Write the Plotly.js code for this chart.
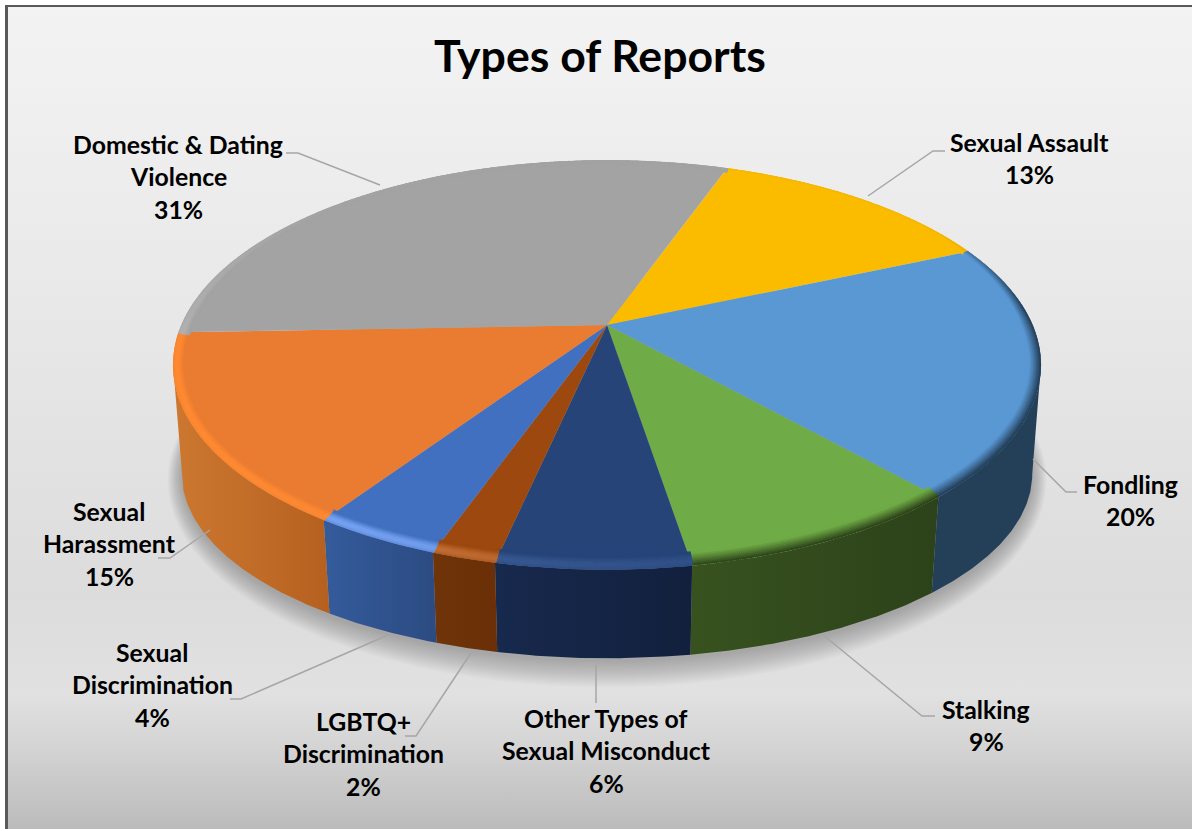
<!DOCTYPE html>
<html>
<head>
<meta charset="utf-8">
<title>Types of Reports</title>
<script src="https://cdn.plot.ly/plotly-3.0.1.min.js"></script>
<style>
  html, body { margin: 0; padding: 0; background: #fff; overflow: hidden; }
  #frame {
    position: absolute; left: 5px; top: 5px; width: 1187px; height: 824px;
    box-sizing: border-box; border-left: 3px solid #595959; border-top: 2px solid #595959;
    background: linear-gradient(to bottom, #f3f3f3 0%, #e9e9e9 34%, #dcdcdc 72%, #e1e1e1 83.5%, #d4d4d4 90%, #bbbbbb 100%);
  }
  #chart { position: absolute; left: 0; top: 0; width: 1192px; height: 829px; }
</style>
</head>
<body>
<div id="frame"></div>
<div id="chart"></div>
<script>
// Report categories, clockwise from the first slice at the back right.
const categories = ['Sexual Assault', 'Fondling', 'Stalking', 'Other Types of Sexual Misconduct',
                    'LGBTQ+ Discrimination', 'Sexual Discrimination', 'Sexual Harassment', 'Domestic & Dating Violence'];
const percentages = [13, 20, 9, 6, 2, 4, 15, 31];

// Slice colours: top face, wall gradient (left, right), rim tint and rim style.
const faceColors = ['#fbbc00', '#5a98d4', '#6fab46', '#264478', '#9c480e', '#4270c0', '#ea7c31', '#a3a3a3'];
const wallLeft   = ['#8a6a00', '#243f58', '#38521f', '#17294d', '#70340a', '#345b9b', '#cd7830', '#5e5e5e'];
const wallRight  = ['#8a6a00', '#243f58', '#2c421a', '#12203d', '#6b2f07', '#2c4b82', '#b5601f', '#5e5e5e'];
const rimColors  = ['#d6a000', '#243f58', '#2c421a', '#3d5f9a', '#c9733a', '#7aa6f5', '#ff8a33', '#b2b2b2'];
const rimIsLit   = [false, false, false, true, true, true, true, true];

// Line breaks of each label and its placement (centre x, first-line y).
const labelLines = [['Sexual Assault'], ['Fondling'], ['Stalking'], ['Other Types of', 'Sexual Misconduct'],
                    ['LGBTQ+', 'Discrimination'], ['Sexual', 'Discrimination'], ['Sexual', 'Harassment'],
                    ['Domestic & Dating', 'Violence']];
const labelX = [1029, 1130, 986, 606, 363, 152, 109, 178];
const labelY = [142, 484, 709, 718, 721, 652, 511, 144];
const lineStep = 32.6;

// Elbowed leader lines joining labels to the pie.
const leaders = [
  'M945,151 L933,151 L868,196', 'M1077,492 L1066,492 L1033,459', 'M935,716 L922,716 L822,634',
  'M596,703 L596,665', 'M405,736 L416,736 L471,653', 'M230,699 L241,699 L388,635',
  'M158,558 L170,558 L210,530', 'M286,153 L298,153 L380,185'
];

// Perspective disc: the hub sits above the centre of the projected ellipse.
const hub = {x: 607, y: 325}, ax = 425.6, ay = 197, tilt = 0.195;
const floor = {x: 607, y: 438, sx: 0.98, sy: 0.9};
const startAngle = 19.5;
const rad = d => d * Math.PI / 180;

function discPoint(deg) {
  const u = Math.sin(rad(deg)), v = -Math.cos(rad(deg)), w = 1 - tilt * v;
  return {dx: ax * u / w, dy: ay * v / w};
}
const topPoint = deg => { const p = discPoint(deg); return [hub.x + p.dx, hub.y + p.dy]; };
const floorPoint = deg => { const p = discPoint(deg); return [floor.x + floor.sx * p.dx, floor.y + floor.sy * p.dy]; };

function sweep(a, b, step) {
  const out = [];
  const n = Math.max(1, Math.ceil(Math.abs(b - a) / step));
  for (let i = 0; i <= n; i++) out.push(a + (b - a) * i / n);
  return out;
}

// Slice boundaries follow directly from the percentages.
const total = percentages.reduce((s, v) => s + v, 0);
const edges = [startAngle];
percentages.forEach(v => edges.push(edges[edges.length - 1] + v / total * 360));

const hexRgb = h => [1, 3, 5].map(i => parseInt(h.substr(i, 2), 16));
const mix = (a, b, t) => a.map((c, i) => Math.round(c + (b[i] - c) * t));
const lerpTable = (tbl, x) => {
  for (let i = 1; i < tbl.length; i++) {
    if (x <= tbl[i][0]) {
      const f = (x - tbl[i - 1][0]) / (tbl[i][0] - tbl[i - 1][0]);
      return tbl[i - 1][1] + (tbl[i][1] - tbl[i - 1][1]) * f;
    }
  }
  return tbl[tbl.length - 1][1];
};

const traces = [];
const plain = {type: 'scatter', mode: 'lines', line: {width: 0}, fill: 'toself', hoverinfo: 'skip', showlegend: false};

// Soft shadow under the pie, tighter at the sides than at the front.
for (let k = 15; k >= 0; k--) {
  const grow = (k + 1) * 1.5, xs = [], ys = [];
  sweep(0, 360, 3).forEach(d => {
    const p = discPoint(d);
    xs.push(floor.x + floor.sx * p.dx * (1 + grow * 0.6 / 425));
    ys.push(floor.y + 2 + floor.sy * p.dy * (1 + grow / 195));
  });
  traces.push({...plain, x: xs, y: ys, fillcolor: 'rgba(0,0,0,0.015)'});
}

// Walls exist only between the two silhouette angles of the disc.
const wallFrom = Math.acos(-tilt) * 180 / Math.PI, wallTo = 360 - wallFrom;
percentages.forEach((_, i) => {
  const a = Math.max(edges[i], wallFrom), b = Math.min(edges[i + 1], wallTo);
  if (b <= a) return;
  const arc = sweep(a, b, 0.5);
  const up = arc.map(topPoint), down = arc.slice().reverse().map(floorPoint);
  const ring = up.concat(down);
  traces.push({...plain,
    x: ring.map(p => p[0]), y: ring.map(p => p[1]), fillcolor: wallRight[i],
    fillgradient: {type: 'horizontal', colorscale: [[0, wallLeft[i]], [1, wallRight[i]]]}
  });
});

// Top faces.
percentages.forEach((_, i) => {
  const ring = [[hub.x, hub.y]].concat(sweep(edges[i], edges[i + 1], 0.5).map(topPoint), [[hub.x, hub.y]]);
  traces.push({...plain, x: ring.map(p => p[0]), y: ring.map(p => p[1]), fillcolor: faceColors[i], name: categories[i]});
});

// Bevel along the rim: fine dots shaded by position around the disc.
const rimWidth = [[0, 2], [60, 2], [90, 10], [120, 12], [180, 12], [250, 11], [270, 9], [295, 4], [320, 2], [360, 2]];
const rimDark  = [[0, 0.12], [60, 0.2], [85, 0.95], [360, 1]];
const rimLight = [[0, 0], [170, 0.45], [200, 0.85], [230, 1], [265, 1], [285, 0.6], [310, 0.1], [360, 0]];
const ell = {x: 606, y: 365, rx: 434, ry: 205};
const bx = [], by = [], bc = [];
percentages.forEach((_, i) => {
  sweep(edges[i], edges[i + 1], 0.25).forEach(d => {
    const a = d % 360, w = lerpTable(rimWidth, a), rim = topPoint(d);
    const base = hexRgb(faceColors[i]), tint = hexRgb(rimColors[i]);
    for (let s = 0; s < 8; s++) {
      const t = s / 7, off = 1.3 + t * w;
      let m;
      if (rimIsLit[i]) {
        m = Math.pow(Math.sin(Math.PI * Math.min(1, 0.28 + t * 0.72)), 1.3) * lerpTable(rimLight, a);
      } else {
        m = Math.pow(1 - t, 1.1) * lerpTable(rimDark, a);
      }
      const c = mix(base, tint, m);
      bx.push(ell.x + (rim[0] - ell.x) * (1 - off / ell.rx));
      by.push(ell.y + (rim[1] - ell.y) * (1 - off / ell.ry));
      bc.push('rgb(' + c.join(',') + ')');
    }
  });
});
traces.push({type: 'scatter', mode: 'markers', x: bx, y: by, hoverinfo: 'skip', showlegend: false,
             marker: {size: 2.8, color: bc, line: {width: 0}}});

// Labels: one annotation per text line, the percentage on the last line.
const annotations = [];
const font = {family: 'Lato, "Open Sans", sans-serif', size: 24.8, color: '#000000', weight: 700};
percentages.forEach((v, i) => {
  labelLines[i].concat([v + '%']).forEach((text, k) => {
    annotations.push({text, x: labelX[i], y: labelY[i] + k * lineStep, xref: 'x', yref: 'y',
                      xanchor: 'center', yanchor: 'middle', showarrow: false, font});
  });
});

const layout = {
  width: 1192, height: 829, margin: {l: 0, r: 0, t: 0, b: 0},
  paper_bgcolor: 'rgba(0,0,0,0)', plot_bgcolor: 'rgba(0,0,0,0)', showlegend: false, hovermode: false,
  title: {text: 'Types of Reports', x: 600 / 1192, xanchor: 'center', y: 1 - 56 / 829, yanchor: 'middle',
          font: {family: 'Lato, "Open Sans", sans-serif', size: 44.6, color: '#000000', weight: 700}},
  xaxis: {range: [0, 1192], visible: false, fixedrange: true},
  yaxis: {range: [829, 0], visible: false, fixedrange: true},
  annotations,
  shapes: leaders.map(path => ({type: 'path', path, xref: 'x', yref: 'y', line: {color: '#a6a6a6', width: 1.5}}))
};

Plotly.newPlot('chart', traces, layout, {displayModeBar: false, staticPlot: true});
</script>
</body>
</html>
